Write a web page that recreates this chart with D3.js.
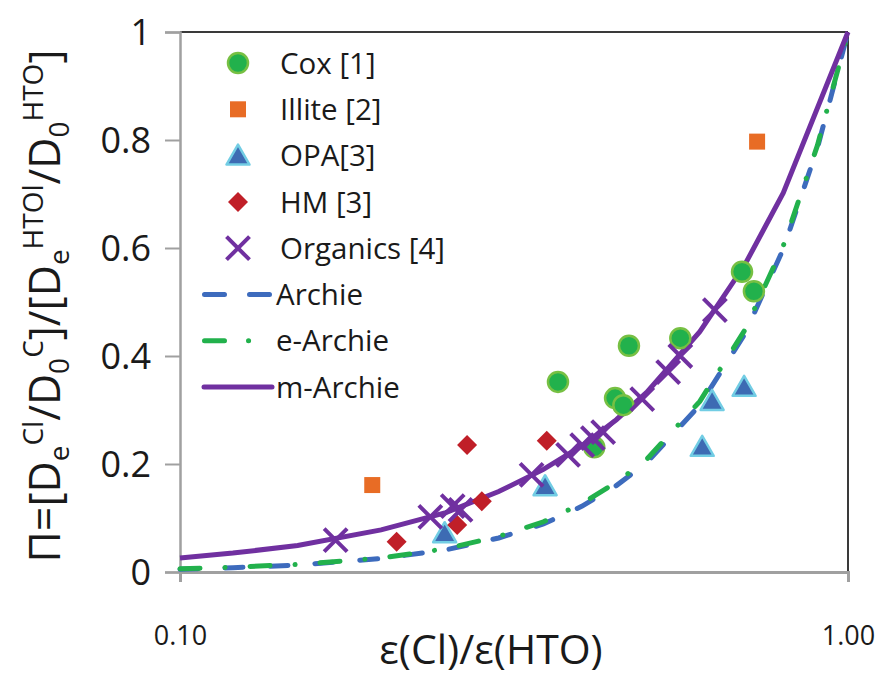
<!DOCTYPE html>
<html>
<head>
<meta charset="utf-8">
<script src="https://cdn.jsdelivr.net/npm/d3@7/dist/d3.min.js"></script>
<style>
  body { margin: 0; background: #fff; }
  text { font-family: "Open Sans", "Noto Sans", sans-serif; fill: #1a1a1a; }
</style>
</head>
<body>
<svg width="882" height="676"></svg>
<script>
// Data
var coxX = [0.368, 0.470, 0.448, 0.461, 0.417, 0.561, 0.694, 0.723];
var coxY = [0.352, 0.419, 0.322, 0.309, 0.231, 0.433, 0.556, 0.520];

var illiteX = [0.194, 0.731];
var illiteY = [0.161, 0.797];

var opaX = [0.249, 0.352, 0.605, 0.626, 0.699];
var opaY = [0.070, 0.157, 0.230, 0.315, 0.341];

var hmX = [0.269, 0.354, 0.283, 0.260, 0.211];
var hmY = [0.235, 0.243, 0.131, 0.087, 0.056];

var orgX = [0.171, 0.237, 0.256, 0.263, 0.336, 0.381, 0.400, 0.415, 0.430, 0.492, 0.538, 0.561, 0.632];
var orgY = [0.059, 0.102, 0.122, 0.115, 0.180, 0.217, 0.235, 0.248, 0.259, 0.320, 0.370, 0.400, 0.485];

var archieX = [0.1, 0.12, 0.15, 0.2, 0.25, 0.3, 0.35, 0.4, 0.45, 0.5, 0.6, 0.7, 0.8, 0.9, 1.0];
var archieY = [0.005, 0.008, 0.013, 0.025, 0.041, 0.063, 0.089, 0.122, 0.160, 0.203, 0.309, 0.440, 0.598, 0.785, 1.0];
var eArchieY = [0.006, 0.009, 0.014, 0.026, 0.043, 0.066, 0.093, 0.127, 0.166, 0.209, 0.316, 0.447, 0.604, 0.790, 1.0];

var mArchieX = [0.1, 0.12, 0.15, 0.2, 0.25, 0.3, 0.35, 0.4, 0.45, 0.5, 0.6, 0.7, 0.8, 1.0];
var mArchieY = [0.026, 0.035, 0.049, 0.078, 0.110, 0.149, 0.190, 0.234, 0.282, 0.333, 0.445, 0.568, 0.702, 1.0];

var xTicks = [0.1, 1];
var xTickLabels = ["0.10", "1.00"];
var yTicks = [0, 0.2, 0.4, 0.6, 0.8, 1];
var yTickLabels = ["0", "0.2", "0.4", "0.6", "0.8", "1"];

var legendNames = ["Cox [1]", "Illite [2]", "OPA[3]", "HM [3]", "Organics [4]", "Archie", "e-Archie", "m-Archie"];

var svg = d3.select("svg");
var pLeft = 180, pRight = 848, pTop = 32, pBottom = 572;

var x = d3.scaleLog().domain([0.1, 1]).range([pLeft, pRight]);
var y = d3.scaleLinear().domain([0, 1]).range([pBottom, pTop]);

function zip(xs, ys) { return xs.map(function (v, i) { return [v, ys[i]]; }); }

// frame (top and right are darker)
svg.append("line").attr("x1", pLeft).attr("x2", pRight).attr("y1", pTop).attr("y2", pTop)
    .attr("stroke", "#3a3a3a").attr("stroke-width", 2);
svg.append("line").attr("x1", pRight).attr("x2", pRight).attr("y1", pTop).attr("y2", pBottom)
    .attr("stroke", "#3a3a3a").attr("stroke-width", 2);

// axes
var yAxis = d3.axisLeft(y).tickValues(yTicks).tickFormat(function (d, i) { return yTickLabels[i]; })
    .tickSize(15).tickPadding(14);
var gy = svg.append("g").attr("transform", "translate(" + pLeft + ",0)").call(yAxis);
gy.select(".domain").attr("stroke", "#a0a0a0").attr("stroke-width", 2.5);
gy.selectAll(".tick line").attr("stroke", "#a0a0a0").attr("stroke-width", 2);
gy.selectAll(".tick text").style("font-size", "36px").attr("fill", "#1a1a1a").attr("dy", "0.36em");

var xAxis = d3.axisBottom(x).tickValues(xTicks).tickFormat(function (d, i) { return xTickLabels[i]; })
    .tickSize(10).tickPadding(44);
var gx = svg.append("g").attr("transform", "translate(0," + pBottom + ")").call(xAxis);
gx.select(".domain").attr("stroke", "#a0a0a0").attr("stroke-width", 3);
gx.selectAll(".tick line").attr("stroke", "#a0a0a0").attr("stroke-width", 2);
gx.selectAll(".tick text").style("font-size", "27px").attr("fill", "#1a1a1a");

// curves
var line = d3.line().x(function (d) { return x(d[0]); }).y(function (d) { return y(d[1]); });

svg.append("path").datum(zip(archieX, archieY)).attr("d", line)
    .attr("fill", "none").attr("stroke", "#3d6bbd").attr("stroke-width", 5)
    .attr("stroke-linecap", "round").attr("stroke-dasharray", "18,27");
svg.append("path").datum(zip(archieX, eArchieY)).attr("d", line)
    .attr("fill", "none").attr("stroke", "#22b14c").attr("stroke-width", 5)
    .attr("stroke-linecap", "round").attr("stroke-dasharray", "20,25,0.1,25");
svg.append("path").datum(zip(mArchieX, mArchieY)).attr("d", line)
    .attr("fill", "none").attr("stroke", "#7030a0").attr("stroke-width", 5);

// marker shapes
function circle(g, cx, cy) {
  g.append("circle").attr("cx", cx).attr("cy", cy).attr("r", 10)
    .attr("fill", "#22b14c").attr("stroke", "#77c043").attr("stroke-width", 2.5);
}
function square(g, cx, cy) {
  g.append("rect").attr("x", cx - 8).attr("y", cy - 8).attr("width", 16).attr("height", 16)
    .attr("fill", "#e86c25");
}
function triangle(g, cx, cy) {
  g.append("path").attr("d", "M" + cx + "," + (cy - 12) + "L" + (cx + 11.5) + "," + (cy + 8) + "L" + (cx - 11.5) + "," + (cy + 8) + "Z")
    .attr("fill", "#3d6bb3").attr("stroke", "#72cde4").attr("stroke-width", 2.5).attr("stroke-linejoin", "round");
}
function diamond(g, cx, cy) {
  g.append("path").attr("d", "M" + cx + "," + (cy - 10) + "L" + (cx + 10) + "," + cy + "L" + cx + "," + (cy + 10) + "L" + (cx - 10) + "," + cy + "Z")
    .attr("fill", "#c01f28");
}
function cross(g, cx, cy) {
  var s = 11.5;
  g.append("path").attr("d", "M" + (cx - s) + "," + (cy - s) + "L" + (cx + s) + "," + (cy + s) +
      "M" + (cx + s) + "," + (cy - s) + "L" + (cx - s) + "," + (cy + s))
    .attr("stroke", "#7030a0").attr("stroke-width", 4).attr("fill", "none");
}

var marks = svg.append("g");
zip(coxX, coxY).forEach(function (d) { circle(marks, x(d[0]), y(d[1])); });
zip(illiteX, illiteY).forEach(function (d) { square(marks, x(d[0]), y(d[1])); });
zip(opaX, opaY).forEach(function (d) { triangle(marks, x(d[0]), y(d[1])); });
zip(hmX, hmY).forEach(function (d) { diamond(marks, x(d[0]), y(d[1])); });
zip(orgX, orgY).forEach(function (d) { cross(marks, x(d[0]), y(d[1])); });

// legend
var lg = svg.append("g");
legendNames.forEach(function (name, i) {
  var ly = 63 + i * 46.3;
  if (i == 0) circle(lg, 238, ly);
  if (i == 1) square(lg, 238, ly);
  if (i == 2) triangle(lg, 238, ly + 1);
  if (i == 3) diamond(lg, 238, ly);
  if (i == 4) cross(lg, 238, ly);
  if (i == 5) lg.append("line").attr("x1", 204.5).attr("x2", 269.5).attr("y1", ly).attr("y2", ly)
      .attr("stroke", "#3d6bbd").attr("stroke-width", 5).attr("stroke-linecap", "round")
      .attr("stroke-dasharray", "20,25");
  if (i == 6) lg.append("line").attr("x1", 204.5).attr("x2", 269.5).attr("y1", ly).attr("y2", ly)
      .attr("stroke", "#22b14c").attr("stroke-width", 5).attr("stroke-linecap", "round")
      .attr("stroke-dasharray", "20,24,0.1,40");
  if (i == 7) lg.append("line").attr("x1", 204).attr("x2", 272).attr("y1", ly).attr("y2", ly)
      .attr("stroke", "#7030a0").attr("stroke-width", 5).attr("stroke-linecap", "round");
  lg.append("text").attr("x", i < 5 ? 280 : 276).attr("y", ly).attr("dy", "0.36em")
    .style("font-size", "29.5px").text(name);
});

// axis titles
svg.append("text").attr("x", 491).attr("y", 664).attr("text-anchor", "middle")
  .style("font-size", "41px").text("ε(Cl)/ε(HTO)");

var yt = svg.append("text").attr("transform", "translate(60,306) rotate(-90)")
  .attr("text-anchor", "middle").style("font-size", "43px");
var parts = [
  ["Π=[D", 0], ["e", 1], ["Cl", 2], ["/D", 0], ["0", 1], ["C", 2], ["]/[D", 0],
  ["e", 1], ["HTOl", 2], ["/D", 0], ["0", 1], ["HTO", 2], ["]", 0]
];
var level = 0;
var offs = [0, 9, -17];
parts.forEach(function (p) {
  var dy = offs[p[1]] - offs[level];
  level = p[1];
  yt.append("tspan").attr("dy", dy).style("font-size", p[1] == 0 ? "43px" : "28px").text(p[0]);
});
</script>
</body>
</html>
